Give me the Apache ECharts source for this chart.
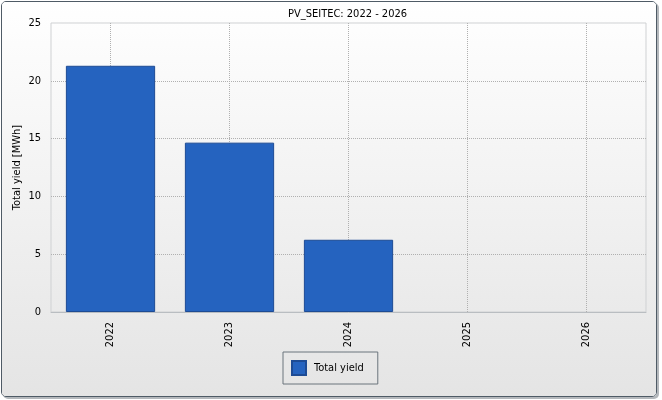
<!DOCTYPE html>
<html>
<head>
<meta charset="utf-8">
<script src="https://cdn.jsdelivr.net/npm/echarts@6/dist/echarts.min.js"></script>
<style>
    html, body { margin: 0; padding: 0; background: #fff; }
    #frame {
        position: absolute; left: 1px; top: 1px;
        width: 656px; height: 396px; box-sizing: border-box;
        border: 1px solid #4f5b66; border-radius: 5px;
        overflow: hidden;
        box-shadow: 2px 2px 0 #b4b8bc;
    }
    #chart { position: absolute; left: -2px; top: -2px; width: 662px; height: 400px; }
</style>
</head>
<body>
<div id="frame"><div id="chart"></div></div>
<script>
// data (2025 and 2026 have no bar)
var categories = ["2022", "2023", "2024", "2025", "2026"];
var yieldValues = [21.3, 14.65, 6.25, null, null];
var yGridValues = [5, 10, 15, 20];
var titleText = "PV_SEITEC: 2022 - 2026";
var seriesName = "Total yield";
var yAxisName = "Total yield [MWh]";

var font = "'DejaVu Sans Condensed', 'DejaVu Sans', sans-serif";
var dotted = { color: "#b0b0b0", type: [1, 1], width: 1 };

var chart = echarts.init(document.getElementById("chart"));

// dotted grid lines: verticals at category centres, horizontals at the ticks
var gridLines = categories.map(function (c) {
    return { xAxis: c };
}).concat(yGridValues.map(function (v) {
    return { yAxis: v };
}));

var option = {
    animation: false,
    backgroundColor: new echarts.graphic.LinearGradient(0, 0, 0, 1, [
        { offset: 0, color: "#ffffff" },
        { offset: 1, color: "#e4e4e4" }
    ]),
    textStyle: { fontFamily: font },
    title: {
        text: titleText,
        left: 288,
        top: 9,
        padding: 0,
        textStyle: { fontSize: 11, fontWeight: "normal", color: "#000", fontFamily: font }
    },
    grid: {
        left: 51,
        right: 16,
        top: 23,
        bottom: 88,
        show: true,
        borderColor: "#cfd1d3",
        borderWidth: 1,
        backgroundColor: "transparent"
    },
    legend: {
        data: [seriesName],
        left: 283,
        top: 352,
        orient: "horizontal",
        icon: "rect",
        itemWidth: 14,
        itemHeight: 14,
        padding: [8, 14, 8, 8],
        borderColor: "#6a747c",
        borderWidth: 1,
        textStyle: { fontSize: 11, color: "#000", fontFamily: font, padding: [0, 0, 0, 3] }
    },
    xAxis: {
        type: "category",
        data: categories,
        axisLine: { lineStyle: { color: "#b9bdc1" } },
        axisTick: { alignWithLabel: true, length: 6, lineStyle: dotted },
        axisLabel: { rotate: 90, margin: 10, fontSize: 11, color: "#000", fontFamily: font },
        splitLine: { show: false }
    },
    yAxis: {
        type: "value",
        min: 0,
        max: 25,
        interval: 5,
        name: yAxisName,
        nameLocation: "middle",
        nameGap: 28,
        nameMoveOverlap: false,
        nameTextStyle: { fontSize: 11, color: "#000", fontFamily: font },
        axisLine: { show: false },
        axisTick: { show: false },
        axisLabel: { margin: 10, fontSize: 11, color: "#000", fontFamily: font },
        splitLine: { show: false }
    },
    series: [
        {
            name: seriesName,
            type: "bar",
            data: yieldValues,
            barWidth: "75%",
            z: 3,
            itemStyle: {
                color: "#2563bf",
                borderColor: "#1d4b94",
                borderWidth: 1
            }
        },
        {
            type: "line",
            data: [],
            z: 1,
            silent: true,
            markLine: {
                silent: true,
                symbol: "none",
                label: { show: false },
                z: 1,
                lineStyle: dotted,
                data: gridLines
            }
        }
    ]
};

chart.setOption(option);
</script>
</body>
</html>
